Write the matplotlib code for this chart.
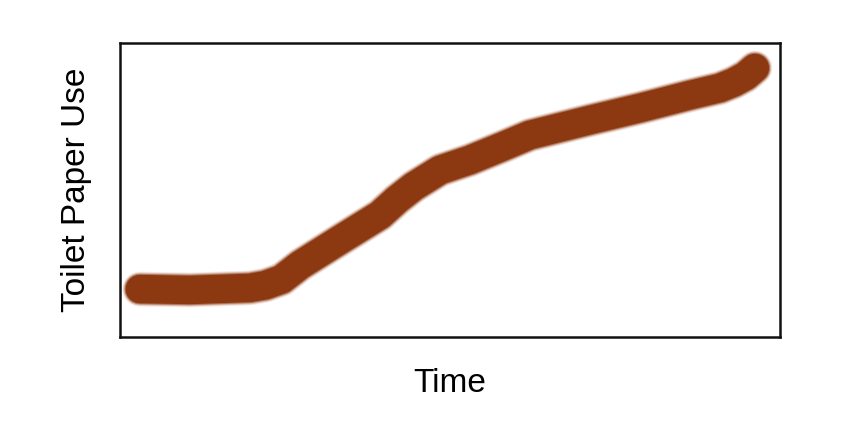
import matplotlib.pyplot as plt

# hand-drawn curve (axes run 0..100 on both sides)
time = [3.0, 10.6, 19.7, 22.0, 24.5, 27.3, 33.3, 39.4, 42.0, 44.5,
        48.5, 53.0, 58.0, 62.1, 71.2, 78.8, 86.4, 90.9, 93.0, 94.8, 96.2]
paper_use = [16.3, 16.0, 16.7, 17.6, 19.6, 24.5, 33.0, 41.5, 46.8, 51.2,
             56.8, 60.2, 64.8, 68.7, 73.8, 77.9, 82.3, 84.7, 86.6, 88.8, 91.5]

plt.rcParams['font.family'] = ['Liberation Sans', 'DejaVu Sans']

fig = plt.figure(figsize=(8.45, 4.38), dpi=100)
ax = fig.add_axes([120 / 845, 1 - 337 / 438, 660 / 845, 294 / 438])

brown = '#8c3810'
# soft edge: a few wider, faint strokes under the main one
for lw, a in [(25, 0.12), (23.5, 0.25), (22, 0.5)]:
    ax.plot(time, paper_use, color=brown, lw=lw, alpha=a,
            solid_capstyle='round', solid_joinstyle='round')
ax.plot(time, paper_use, color=brown, lw=20.5,
        solid_capstyle='round', solid_joinstyle='round')

ax.set_xlim(0, 100)
ax.set_ylim(0, 100)
ax.set_xticks([])
ax.set_yticks([])
for sp in ax.spines.values():
    sp.set_linewidth(1.8)
    sp.set_color('#111111')

ax.set_xlabel('Time', fontsize=24, labelpad=22)
ax.set_ylabel('Toilet Paper Use', fontsize=24, labelpad=20)

fig.savefig('out.png', dpi=100, facecolor='white')
